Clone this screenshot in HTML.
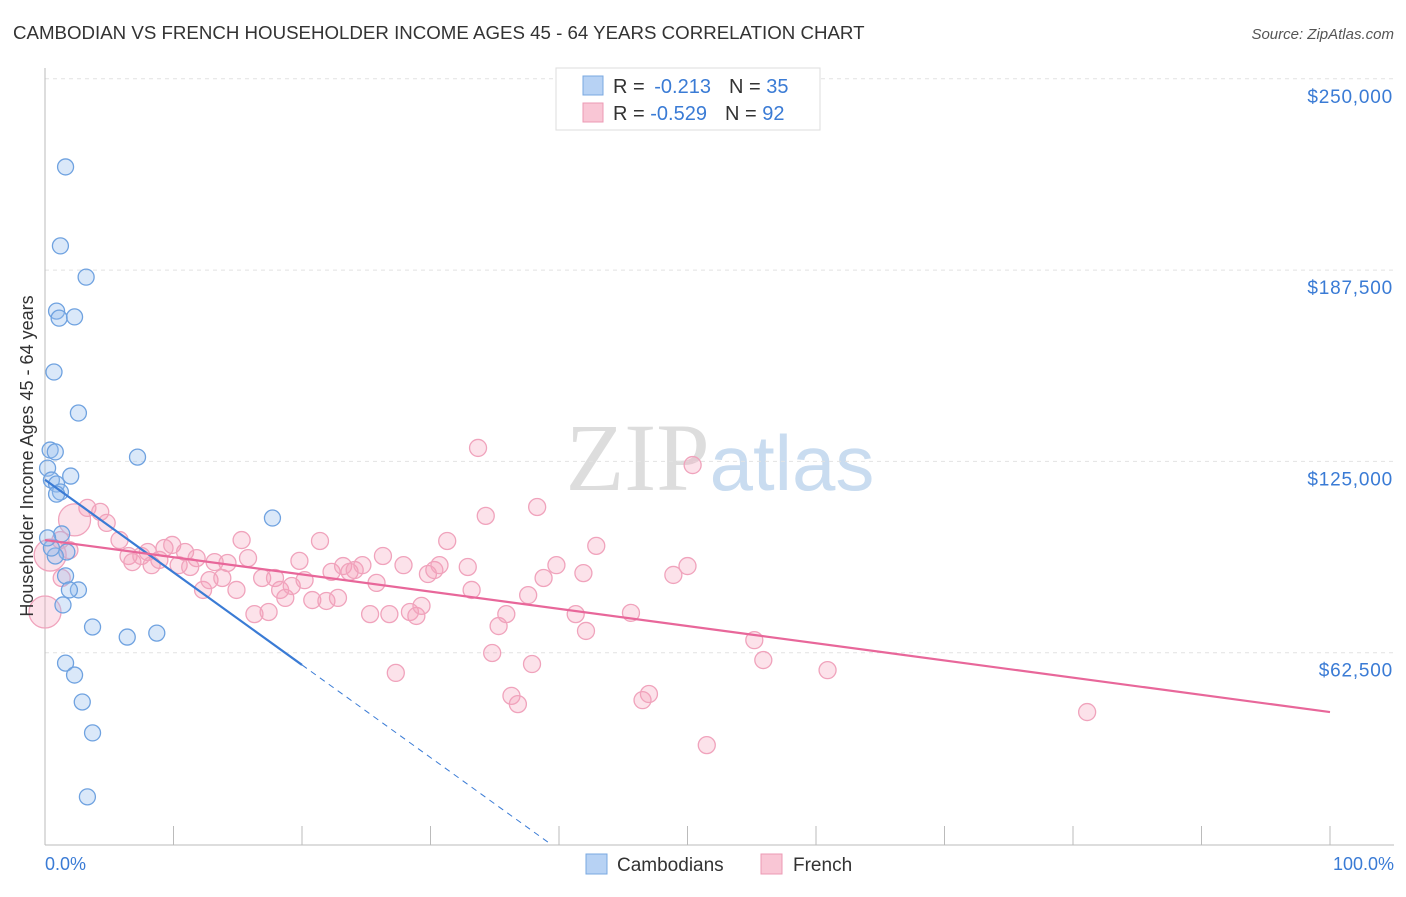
<!DOCTYPE html>
<html><head><meta charset="utf-8">
<style>
html,body{margin:0;padding:0;background:#fff;}
body{width:1406px;height:892px;overflow:hidden;font-family:"Liberation Sans",sans-serif;}
</style></head>
<body>
<svg id="chart" width="1406" height="892" xmlns="http://www.w3.org/2000/svg">
<text x="13" y="39" font-size="18.7" fill="#333">CAMBODIAN VS FRENCH HOUSEHOLDER INCOME AGES 45 - 64 YEARS CORRELATION CHART</text>
<text x="1394" y="39" font-size="15" fill="#555" font-style="italic" text-anchor="end">Source: ZipAtlas.com</text>
<text x="720" y="490" font-size="96" fill="#ddd" text-anchor="middle" font-family="Liberation Serif, serif">ZIP<tspan fill="#c9dcf0" font-family="Liberation Sans, sans-serif" font-size="78">atlas</tspan></text>
<g id="grid"></g>
<g id="axes"></g>
<g id="marks"></g>
<text transform="translate(33,456) rotate(-90)" font-size="18" fill="#333" text-anchor="middle">Householder Income Ages 45 - 64 years</text>
<text x="45" y="870" font-size="18" fill="#3a7bd5">0.0%</text>
<text x="1394" y="870" font-size="18" fill="#3a7bd5" text-anchor="end">100.0%</text>
<g>
<rect x="556" y="68" width="264" height="62" fill="#fff" stroke="#ddd"/>
<rect x="583" y="76" width="20" height="19" fill="#b7d2f4" stroke="#7aa8e0"/>
<rect x="583" y="103" width="20" height="19" fill="#f9c6d5" stroke="#ec9ab4"/>
<text x="613" y="93" font-size="20" fill="#333">R = <tspan dx="4" fill="#3a7bd5">-0.213</tspan><tspan dx="18">N = </tspan><tspan fill="#3a7bd5">35</tspan></text>
<text x="613" y="120" font-size="20" fill="#333">R = <tspan fill="#3a7bd5">-0.529</tspan><tspan dx="18">N = </tspan><tspan fill="#3a7bd5">92</tspan></text>
</g>
<g>
<rect x="586" y="854" width="21" height="20" fill="#b7d2f4" stroke="#7aa8e0"/>
<text x="617" y="871" font-size="19" fill="#333">Cambodians</text>
<rect x="761" y="854" width="21" height="20" fill="#f9c6d5" stroke="#ec9ab4"/>
<text x="793" y="871" font-size="19" fill="#333">French</text>
</g>
</svg>
<script>
const yTicks=[62500,125000,187500,250000];
const yTickLabels=["$62,500","$125,000","$187,500","$250,000"];
const blueX=[1.6,1.2,3.2,0.9,1.1,2.3,0.7,2.6,7.2,0.4,0.8,0.2,2.0,0.5,0.9,1.2,0.9,17.7,1.3,1.7,0.8,1.6,2.6,1.9,1.4,3.7,6.4,8.7,1.6,2.3,2.9,3.7,3.3,0.5,0.2];
const blueY=[221200,195400,185200,174100,171800,172200,154200,140800,126400,128700,128100,122800,120200,118900,117600,115000,114300,106500,101300,95400,94100,87600,83000,83000,78100,70900,67600,68900,59100,55200,46400,36300,15400,96700,100000];
const pinkX=[0,0.4,2.3,3.3,4.3,4.8,1.2,1.9,5.8,6.5,6.8,7.5,8.0,8.3,8.9,9.3,9.9,10.4,10.9,11.3,11.8,12.3,12.8,13.2,13.8,14.2,14.9,15.3,15.8,16.3,16.9,17.4,17.9,18.3,18.7,19.2,19.8,20.2,20.8,21.4,21.9,22.3,22.8,23.2,23.7,24.1,24.7,25.3,25.8,26.3,26.8,27.3,27.9,28.4,28.9,29.3,29.8,30.3,30.7,31.3,32.9,33.2,33.7,34.3,34.8,35.3,35.9,36.3,36.8,37.6,37.9,38.3,38.8,39.8,41.3,41.9,42.1,42.9,45.6,46.5,47.0,48.9,50.0,50.4,51.5,55.2,55.9,60.9,81.1,1.3];
const pinkY=[75800,94400,105900,109800,108500,104900,99300,96000,99300,94100,92100,94100,95400,91100,92800,96700,97700,91100,95400,90500,93400,83000,86200,92100,86900,91800,83000,99300,93400,75100,86900,75800,86900,83000,80400,84300,92500,86200,79700,99000,79400,88900,80400,90800,88900,89500,91100,75100,85300,94100,75100,55900,91100,75800,74500,77800,88200,89500,91100,99000,90500,83000,129400,107200,62400,71200,75100,48400,45700,81300,58800,110100,86900,91100,75100,88500,69600,97400,75500,47000,49000,87900,90800,123800,32300,66600,60100,56800,43100,86900];
const pinkBig=[0,1,2];
const blueTrend=[119000,58500];
const pinkTrend=[99300,43100];
const NS="http://www.w3.org/2000/svg";
const xs=p=>45+p*12.85;
const ys=v=>844-v/326.7;
function mk(tag,attrs,parent){const e=document.createElementNS(NS,tag);for(const k in attrs)e.setAttribute(k,attrs[k]);parent.appendChild(e);return e;}
const grid=document.getElementById('grid'),axes=document.getElementById('axes'),marks=document.getElementById('marks');
yTicks.forEach((t,i)=>{
 const l=mk('line',{x1:45,x2:1394,y1:ys(t),y2:ys(t),stroke:'#e2e2e2','stroke-dasharray':'4,4'},grid);
 
 
 const tx=mk('text',{x:1393,y:ys(t)+24,'font-size':19,'letter-spacing':'0.8',fill:'#3a7bd5','text-anchor':'end'},axes);
 tx.textContent=yTickLabels[i];
 
 
});
const xa=mk('line',{x1:45,x2:1394,y1:845,y2:845,stroke:'#bbb'},axes);


const ya=mk('line',{x1:45,x2:45,y1:68,y2:845,stroke:'#bbb'},axes);


for(let i=0;i<=10;i++){
 const t=mk('line',{x1:xs(i*10),x2:xs(i*10),y1:826,y2:845,stroke:'#bbb'},axes);
 
 
}
pinkX.forEach((x,i)=>{
 const big=pinkBig.includes(i);
 const c=mk('circle',{cx:xs(x),cy:ys(pinkY[i]),r:big?16:8.5,fill:'rgba(244,160,187,0.3)',stroke:'#f0a3bc','stroke-width':1.3},marks);
 
 
});
blueX.forEach((x,i)=>{
 const c=mk('circle',{cx:xs(x),cy:ys(blueY[i]),r:8,fill:'rgba(150,190,238,0.35)',stroke:'#6fa2e0','stroke-width':1.3},marks);
 
 
});
const slope=(blueTrend[1]-blueTrend[0])/20;
const xEnd=-blueTrend[0]/slope;
const bd=mk('line',{x1:xs(20),y1:ys(blueTrend[1]),x2:xs(xEnd),y2:ys(0),stroke:'#3a7bd5','stroke-width':1,'stroke-dasharray':'6,5'},marks);


const bl=mk('line',{x1:xs(0),y1:ys(blueTrend[0]),x2:xs(20),y2:ys(blueTrend[1]),stroke:'#3a7bd5','stroke-width':2.2},marks);


const pl=mk('line',{x1:xs(0),y1:ys(pinkTrend[0]),x2:xs(100),y2:ys(pinkTrend[1]),stroke:'#e8679a','stroke-width':2.2},marks);


</script>
</body></html>
